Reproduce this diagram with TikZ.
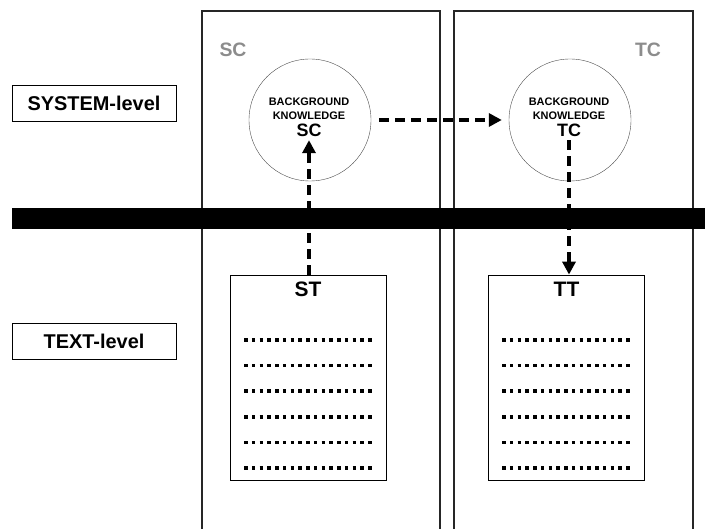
\documentclass[tikz,border=0pt]{standalone}
\usepackage{fontspec}
\setmainfont{Liberation Sans}
\usetikzlibrary{
  arrows.meta,
  positioning,
}

\tikzset{
  levelbox/.style={draw, line width=0.8pt, minimum width=164bp, minimum height=36bp,
    font=\fontsize{20}{22}\selectfont\bfseries},
  column/.style={line width=1.3pt, black!85},
  collabel/.style={text=black!45, font=\fontsize{19.5}{20}\selectfont\bfseries},
  bkcircle/.style={draw, circle, line width=0.4pt, black!70, minimum size=122bp},
  bktext/.style={align=center, inner sep=0pt, font=\fontsize{11}{14}\selectfont\bfseries},
  bklabel/.style={inner sep=0pt, font=\fontsize{18}{20}\selectfont\bfseries},
  textbox/.style={draw, line width=0.8pt, minimum width=156bp, minimum height=205bp},
  tlabel/.style={font=\fontsize{21}{22}\selectfont\bfseries},
  flow/.style={line width=4bp, dash pattern=on 10bp off 6bp,
    -{Triangle[length=13bp,width=13bp]}},
  dotrow/.style={line width=3.5bp, dash pattern=on 3.5bp off 4.25bp},
}

\begin{document}
\begin{tikzpicture}[x=1bp, y=-1bp]
      \useasboundingbox (0,0) rectangle (705,529);
      % columns
      \draw [column] (202,530) -- (202,11) -- (440,11) -- (440,530);
      \draw [column] (454,530) -- (454,11) -- (693,11) -- (693,530);
      \node [collabel] (lblSC) at (233,50) {SC};
      \node [collabel] (lblTC) at (648,50) {TC};
      % level separator
      \fill (12,208) rectangle (705,229);
      \node [levelbox] (sys) at (94,103.5) {SYSTEM-level};
      \node [levelbox] (txt) at (94,341.5) {TEXT-level};
      % background knowledge
      \node [bkcircle] (SC) at (310,120) {};
      \node [bkcircle] (TC) at (570,120) {};
      \node [bktext] (SCtxt) at (309,109) {BACKGROUND\\KNOWLEDGE};
      \node [bktext] (TCtxt) at (569,109) {BACKGROUND\\KNOWLEDGE};
      \node [bklabel, below=4bp of SCtxt] (SClbl) {SC};
      \node [bklabel, below=4bp of TCtxt] (TClbl) {TC};
      % texts
      \node [textbox] (ST) at (308,377.5) {};
      \node [textbox] (TT) at (566.5,377.5) {};
      \node [tlabel, below=4bp of ST.north] (STlbl) {ST};
      \node [tlabel, below=4bp of TT.north] (TTlbl) {TT};
      \foreach \r in {0,...,5} {
        \draw [dotrow] (244,340+25.6*\r) -- (371.5,340+25.6*\r);
        \draw [dotrow] (502,340+25.6*\r) -- (629.5,340+25.6*\r);
      }
      % arrows
      \draw [flow, shorten >=3bp] (ST.north -| SClbl.south) -- (SClbl.south);
      \draw [flow, shorten <=8bp, shorten >=7bp] (SC.east) -- (TC.west);
      \draw [flow, shorten <=3bp] (TClbl.south) -- (TClbl.south |- TT.north);
    \end{tikzpicture}
\end{document}
